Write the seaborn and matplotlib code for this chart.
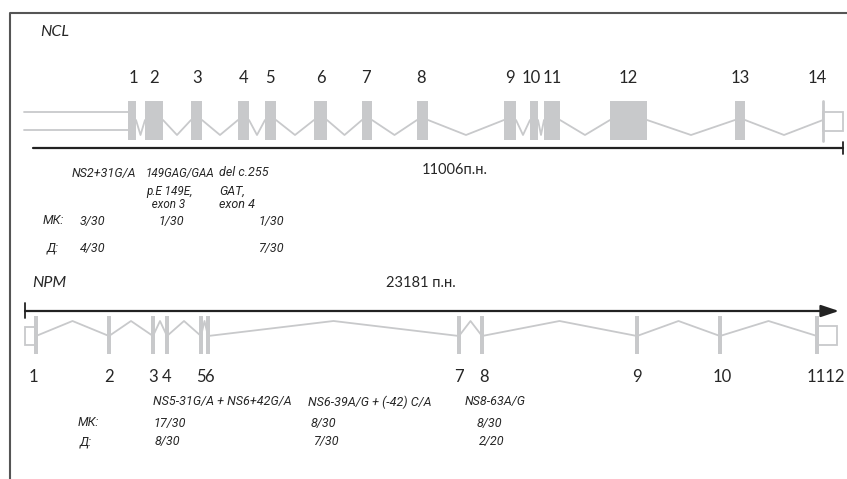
import pandas as pd
import numpy as np
import seaborn as sns
import matplotlib.pyplot as plt
from matplotlib.patches import Rectangle

# NCL gene: exon start / end along the diagram axis
ncl_exon_start = [128, 145, 191, 238, 265, 314, 362, 417, 504, 530, 544, 610, 735]
ncl_exon_end = [136, 163, 202, 249, 276, 327, 372, 428, 516, 538, 560, 647, 745]
ncl_last_exon = 823
ncl_labels = ["1", "2", "3", "4", "5", "6", "7", "8", "9", "10", "11", "12", "13", "14"]
ncl_label_x = [133, 154, 197, 244, 270, 321, 366, 421, 510, 531, 552, 628, 740, 817]
ncl_length = "11006п.н."

# NPM gene: exon positions (thin exons)
npm_exon_x = [36, 109, 153, 167, 201, 208, 459, 482, 637, 720, 817]
npm_labels = ["1", "2", "3", "4", "5", "6", "7", "8", "9", "10", "1112"]
npm_label_x = [33, 109, 153, 167, 201, 209, 459, 484, 637, 722, 826]
npm_length = "23181 п.н."

# mutations and frequencies
ncl_mut = ["NS2+31G/A", "149GAG/GAA\np.E 149E,\n  exon 3", "del c.255\nGAT,\nexon 4"]
ncl_mk = ["3/30", "1/30", "1/30"]
ncl_d = ["4/30", "", "7/30"]
npm_mut = ["NS5-31G/A + NS6+42G/A", "NS6-39A/G + (-42) C/A", "NS8-63A/G"]
npm_mk = ["17/30", "8/30", "8/30"]
npm_d = ["8/30", "7/30", "2/20"]

sns.set_theme(style="white")
plt.rcParams['font.family'] = ['Lato', 'Roboto', 'DejaVu Sans']
small = ['Roboto', 'DejaVu Sans']

gray = "#c8c9cb"
fig = plt.figure(figsize=(8.47, 4.79), dpi=100)
ax = fig.add_axes([0, 0, 1, 1])

# frame
ax.plot([10, 10, 847], [479, 13, 13], color="#555555", lw=1.5, solid_capstyle="butt")

# ---------- NCL ----------
ax.text(40, 32, "NCL", fontsize=11.5, style="italic", va="center", ha="left")
for lab, x in zip(ncl_labels, ncl_label_x):
    ax.text(x, 78, lab, fontsize=12, ha="center", va="center")

# introns (V shapes)
rows = []
starts = ncl_exon_start + [ncl_last_exon]
ends = ncl_exon_end
for i in range(len(ends)):
    a, b = ends[i], starts[i + 1]
    rows += [(a, 120, i), ((a + b) / 2, 135, i), (b, 120, i)]
intr = pd.DataFrame(rows, columns=["x", "y", "unit"])
sns.lineplot(data=intr, x="x", y="y", units="unit", estimator=None, sort=False,
             color=gray, lw=1.3, ax=ax)

ax.bar([(s + e) / 2 for s, e in zip(ncl_exon_start, ncl_exon_end)], 39,
       width=[e - s for s, e in zip(ncl_exon_start, ncl_exon_end)], bottom=101,
       color=gray, lw=0)
# 5' UTR lines
ax.plot([24, ncl_exon_start[0]], [112, 112], color=gray, lw=1.3)
ax.plot([24, ncl_exon_start[0]], [130, 130], color=gray, lw=1.3)
# last exon
ax.plot([ncl_last_exon, ncl_last_exon], [101, 141], color=gray, lw=2)
ax.add_patch(Rectangle((ncl_last_exon, 112), 20, 19, fill=False, ec=gray, lw=1.3))

# scale line
ax.plot([33, 843], [148, 148], color="#222222", lw=1.6)
ax.plot([843, 843], [142, 154], color="#222222", lw=1.3)
ax.text(455, 170, ncl_length, fontsize=10.5, ha="center", va="center")

fs = 9
ti = dict(style="italic", ha="left", linespacing=1.0, family=small)
for x, m, size in zip([72, 146, 219], ncl_mut, [fs, 8.4, fs]):
    first, _, rest = m.partition("\n")
    ax.text(x, 173, first, fontsize=size, va="center", **ti)
    if rest:
        ax.text(x, 185, rest, fontsize=size, va="top", **ti)
ax.text(43, 221, "МК:", fontsize=fs, style="italic", va="center", family=small)
ax.text(47, 248, "Д:", fontsize=fs, style="italic", va="center", family=small)
for x, mk, d in zip([80, 158, 258], ncl_mk, ncl_d):
    ax.text(x, 221, mk, fontsize=fs, style="italic", va="center", family=small)
    ax.text(x, 248, d, fontsize=fs, style="italic", va="center", family=small)

# ---------- NPM ----------
ax.text(32, 283, "NPM", fontsize=11.5, style="italic", va="center", ha="left")
ax.text(421, 283, npm_length, fontsize=10.5, ha="center", va="center")
ax.annotate("", xy=(839, 311), xytext=(25, 311),
            arrowprops=dict(arrowstyle="-|>,head_length=0.9,head_width=0.3",
                            color="#222222", lw=1.6, shrinkA=0, shrinkB=0))
ax.plot([25, 25], [303, 318], color="#222222", lw=1.3)

rows = []
for i in range(len(npm_exon_x) - 1):
    a, b = npm_exon_x[i], npm_exon_x[i + 1]
    rows += [(a, 336, i), ((a + b) / 2, 321, i), (b, 336, i)]
intr2 = pd.DataFrame(rows, columns=["x", "y", "unit"])
sns.lineplot(data=intr2, x="x", y="y", units="unit", estimator=None, sort=False,
             color=gray, lw=1.3, ax=ax)
ax.bar(npm_exon_x, 38, width=4, bottom=316, color=gray, lw=0)
ax.add_patch(Rectangle((25, 327), npm_exon_x[0] - 25, 18, fill=False, ec=gray, lw=1.3))
ax.add_patch(Rectangle((npm_exon_x[-1], 326), 20, 19, fill=False, ec=gray, lw=1.3))

for lab, x in zip(npm_labels, npm_label_x):
    ax.text(x, 377, lab, fontsize=12, ha="center", va="center")

for x, m in zip([153, 308, 465], npm_mut):
    ax.text(x, 402, m, fontsize=fs, style="italic", va="center", family=small)
ax.text(78, 423, "МК:", fontsize=fs, style="italic", va="center", family=small)
ax.text(80, 442, "Д:", fontsize=fs, style="italic", va="center", family=small)
for x, mk, d in zip([153, 311, 477], npm_mk, npm_d):
    ax.text(x, 423, mk, fontsize=fs, style="italic", va="center", family=small)
    ax.text(x + 2, 442, d, fontsize=fs, style="italic", va="center", family=small)

ax.set_xlim(0, 847)
ax.set_ylim(479, 0)
ax.axis("off")
fig.savefig("out.png", dpi=100)
